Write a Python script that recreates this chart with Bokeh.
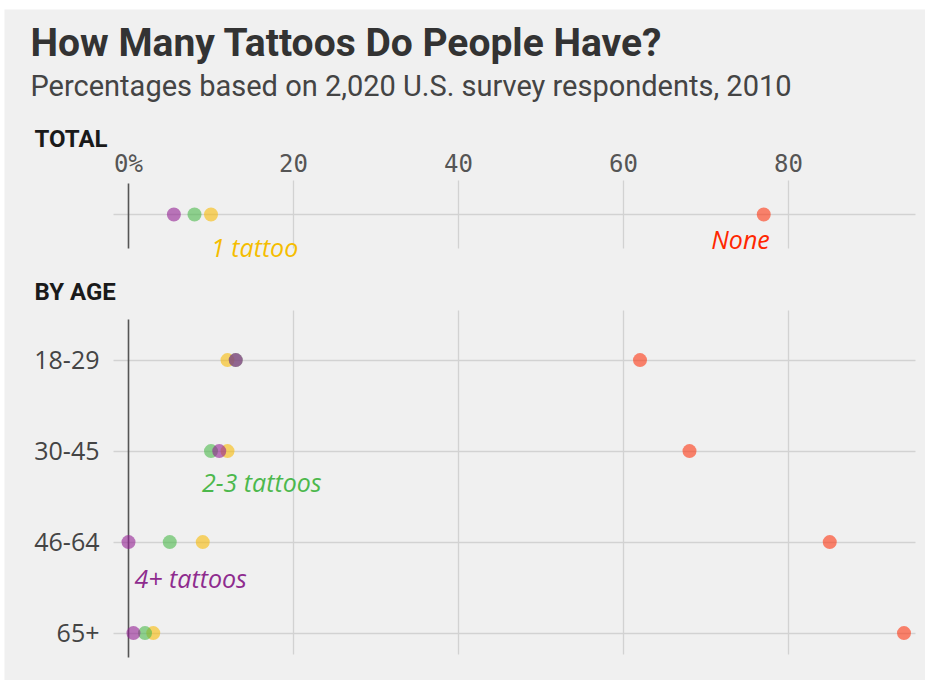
from bokeh.plotting import figure
from bokeh.models import (Range1d, LinearAxis, FixedTicker, Grid, Label, ColumnDataSource)
from bokeh.core.properties import value
from bokeh.embed import file_html
from bokeh.resources import INLINE

# ---------------- data ----------------
series = ["None", "1 tattoo", "2-3 tattoos", "4+ tattoos"]
total_values = [77, 10, 8, 5.5]
age_groups = ["18-29", "30-45", "46-64", "65+"]
none_by_age = [62, 68, 85, 94]
one_by_age = [12, 12, 9, 3]
two_three_by_age = [13, 10, 5, 2]
four_plus_by_age = [13, 11, 0, 0.6]
x_ticks = [0, 20, 40, 60, 80]
x_tick_labels = ["0%", "20", "40", "60", "80"]

dot_colors = {"None": "#fd3511", "1 tattoo": "#f8bb07",
              "2-3 tattoos": "#4bb94b", "4+ tattoos": "#932093"}
text_colors = {"None": "#ff2700", "1 tattoo": "#f5bd00",
               "2-3 tattoos": "#4cb84c", "4+ tattoos": "#8e2b8e"}

# ---------------- layout (page pixels -> data units) ----------------
BG = "#f0f0f0"
PX_X = 8.25          # pixels per percent
PX_Y = 91.0          # pixels per row unit
X0_PX, Y0_PX = 128, 214   # page position of x=0 and of the TOTAL row
CANVAS = (4, 9, 921, 671)  # left, top, width, height on the page

def dx(px):
    return (px - X0_PX) / PX_X

def dy(py):
    return (py - Y0_PX) / PX_Y

TOTAL_Y = 0.0
AGE_Y = [1.6 + i for i in range(len(age_groups))]

left, top, W, H = CANVAS
p = figure(width=W, height=H, output_backend="svg", toolbar_location=None,
           x_range=Range1d(dx(left), dx(left + W)), y_range=Range1d(dy(top + H), dy(top)),
           x_axis_location=None, y_axis_location=None, title=None,
           min_border=0, background_fill_color=BG, border_fill_color=BG,
           outline_line_color=None, margin=(top, 0, 0, left))
p.grid.visible = False

# grids
grid_col = "#d2d2d2"
p.add_layout(Grid(dimension=1, ticker=FixedTicker(ticks=[TOTAL_Y] + AGE_Y),
                  grid_line_color=grid_col, grid_line_width=1.3,
                  cross_bounds=(dx(113), dx(915))))
p.add_layout(Grid(dimension=0, ticker=FixedTicker(ticks=x_ticks[1:]),
                  grid_line_color=grid_col, grid_line_width=1.3,
                  cross_bounds=(dy(180), dy(248))))
p.add_layout(Grid(dimension=0, ticker=FixedTicker(ticks=x_ticks[1:]),
                  grid_line_color=grid_col, grid_line_width=1.3,
                  cross_bounds=(dy(310), dy(654))))
p.add_layout(Grid(dimension=0, ticker=FixedTicker(ticks=[0]),
                  grid_line_color="#555555", grid_line_width=1.6,
                  cross_bounds=(dy(183), dy(248))))
p.add_layout(Grid(dimension=0, ticker=FixedTicker(ticks=[0]),
                  grid_line_color="#555555", grid_line_width=1.6,
                  cross_bounds=(dy(319), dy(657))))

# axes (fixed inside the frame)
top_axis = LinearAxis(ticker=FixedTicker(ticks=x_ticks), fixed_location=dy(180),
                      major_label_overrides={t: l for t, l in zip(x_ticks, x_tick_labels)},
                      axis_line_color=None, major_tick_line_color=None, minor_tick_line_color=None,
                      major_tick_out=0, major_tick_in=0, major_label_standoff=3,
                      major_label_text_font="DejaVu Sans Mono", major_label_text_font_size="24px",
                      major_label_text_color="#555555")
p.add_layout(top_axis, "above")

left_axis = LinearAxis(ticker=FixedTicker(ticks=AGE_Y), fixed_location=dx(113),
                       major_label_overrides={y: g for y, g in zip(AGE_Y, age_groups)},
                       axis_line_color=None, major_tick_line_color=None, minor_tick_line_color=None,
                       major_tick_out=0, major_tick_in=0, major_label_standoff=14,
                       major_label_text_font="Open Sans", major_label_text_font_size="25px",
                       major_label_text_color="#444444")
p.add_layout(left_axis, "left")

# points
rows = [
    ("None", total_values[0], none_by_age),
    ("1 tattoo", total_values[1], one_by_age),
    ("2-3 tattoos", total_values[2], two_three_by_age),
    ("4+ tattoos", total_values[3], four_plus_by_age),
]
for name, tv, ages in rows:
    src = ColumnDataSource(dict(x=[tv] + list(ages), y=[TOTAL_Y] + AGE_Y))
    p.scatter("x", "y", source=src, size=14, fill_color=dot_colors[name], fill_alpha=0.6,
              line_color=None)

# series labels anchored to data points
common = dict(text_font=value("Open Sans"), text_font_style="italic", text_font_size="25px",
              text_baseline="middle")
p.text(x=[total_values[1]], y=[TOTAL_Y], text=["1 tattoo"], text_color=text_colors["1 tattoo"],
       text_align="left", x_offset=0, y_offset=32, **common)
p.text(x=[total_values[0]], y=[TOTAL_Y], text=["None"], text_color=text_colors["None"],
       text_align="right", x_offset=6, y_offset=24, **common)
p.text(x=[two_three_by_age[1]], y=[AGE_Y[1]], text=["2-3 tattoos"],
       text_color=text_colors["2-3 tattoos"], text_align="left", x_offset=-9, y_offset=31, **common)
p.text(x=[four_plus_by_age[2]], y=[AGE_Y[2]], text=["4+ tattoos"],
       text_color=text_colors["4+ tattoos"], text_align="left", x_offset=6, y_offset=36, **common)

# titles and section headers
def add_label(text, px, py, size, color, style="normal", font="Roboto"):
    p.add_layout(Label(x=dx(px), y=dy(py), text=text, text_font=font, text_font_size=size,
                       text_color=color, text_font_style=style,
                       text_baseline="alphabetic", text_align="left"))

add_label("How Many Tattoos Do People Have?", 30, 42, "39px", "#333333", "bold")
add_label("Percentages based on 2,020 U.S. survey respondents, 2010", 30, 85, "29px", "#444444")
add_label("TOTAL", 34, 138, "24px", "#1a1a1a", "bold")
add_label("BY AGE", 34, 291, "24px", "#1a1a1a", "bold")

open("out.html", "w").write(file_html(p, INLINE))
